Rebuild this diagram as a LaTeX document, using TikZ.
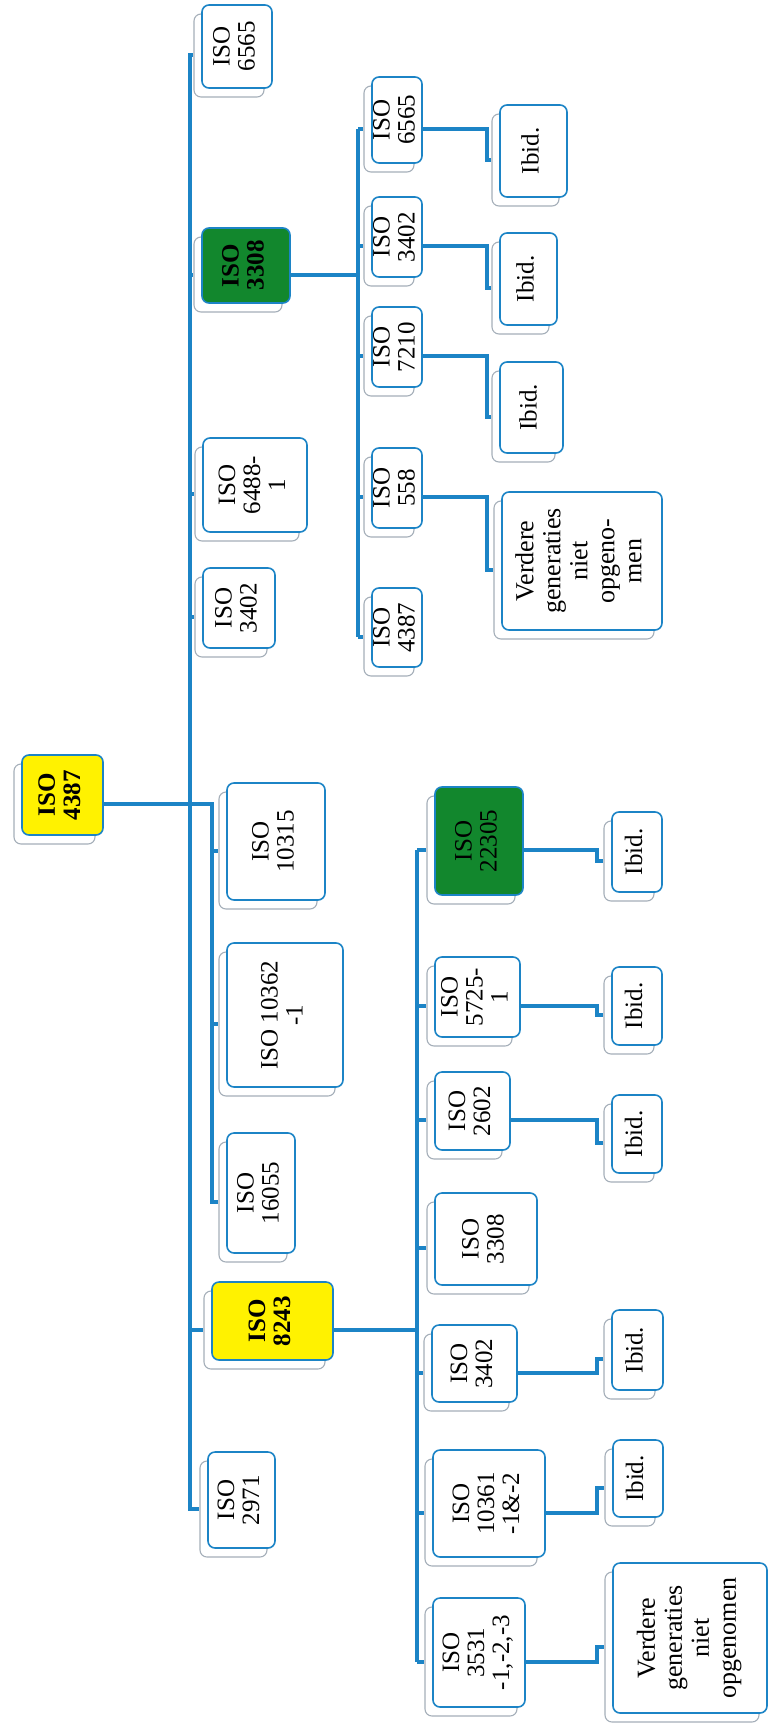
\documentclass[tikz,border=0pt]{standalone}
\usepackage{fontspec}
\setmainfont{Liberation Serif}
\usetikzlibrary{shadows}
\definecolor{isoblue}{RGB}{28,132,198}
\definecolor{isoyellow}{RGB}{255,242,0}
\definecolor{isogreen}{RGB}{18,135,45}
\definecolor{backgrey}{RGB}{165,175,185}
\newcommand{\vlines}[1]{\rotatebox{90}{\begin{tabular}{@{}c@{}}#1\end{tabular}}}
\tikzset{
  card/.style={draw=isoblue, line width=1.6pt, rounded corners=7pt, fill=white,
    inner sep=0pt, font=\fontsize{25}{25}\selectfont,
    copy shadow={shadow xshift=-8pt, shadow yshift=-9pt, draw=backgrey, fill=white, line width=1.1pt}},
  yel/.style={card, fill=isoyellow, font=\fontsize{25}{25}\selectfont\bfseries},
  grn/.style={card, fill=isogreen},
  note/.style={card, font=\fontsize{26}{27}\selectfont},
  link/.style={draw=isoblue, line width=4pt}
}
\begin{document}
\begin{tikzpicture}[x=1pt,y=-1pt]
\useasboundingbox (0,0) rectangle (768,1728);
% root and first generation
\node[yel, minimum width=81pt, minimum height=80pt] (r) at (62.5,795) {\vlines{ISO\\4387}};
\node[card, minimum width=70pt, minimum height=83pt] (t1) at (237,46.5) {\vlines{ISO\\6565}};
\node[grn, minimum width=88pt, minimum height=75pt, font=\fontsize{25}{25}\selectfont\bfseries] (t2) at (246,265.5) {\vlines{ISO\\3308}};
\node[card, minimum width=104pt, minimum height=94pt] (t3) at (255,485) {\vlines{ISO\\6488-\\1}};
\node[card, minimum width=72pt, minimum height=80pt] (t4) at (239,608) {\vlines{ISO\\3402}};
\node[card, minimum width=98pt, minimum height=117pt] (t5) at (276,841.5) {\vlines{ISO\\10315}};
\node[card, minimum width=116pt, minimum height=144pt] (t6) at (285,1015) {\vlines{ISO 10362\\-1}};
\node[card, minimum width=68pt, minimum height=120pt] (t7) at (261,1193) {\vlines{ISO\\16055}};
\node[yel, minimum width=121pt, minimum height=78pt] (t8) at (272.5,1321) {\vlines{ISO\\8243}};
\node[card, minimum width=67pt, minimum height=96pt] (t9) at (241.5,1500) {\vlines{ISO\\2971}};
% under ISO 3308
\node[card, minimum width=50pt, minimum height=86pt] (a1) at (397,120) {\vlines{ISO\\6565}};
\node[card, minimum width=50pt, minimum height=80pt] (a2) at (397,237) {\vlines{ISO\\3402}};
\node[card, minimum width=50pt, minimum height=80pt] (a3) at (397,347) {\vlines{ISO\\7210}};
\node[card, minimum width=50pt, minimum height=80pt] (a4) at (397,488) {\vlines{ISO\\558}};
\node[card, minimum width=50pt, minimum height=79pt] (a5) at (397,627.5) {\vlines{ISO\\4387}};
\node[card, minimum width=67pt, minimum height=92pt] (b1) at (533.5,151) {\vlines{Ibid.}};
\node[card, minimum width=57pt, minimum height=92pt] (b2) at (528.5,279) {\vlines{Ibid.}};
\node[card, minimum width=63pt, minimum height=91pt] (b3) at (531.5,407.5) {\vlines{Ibid.}};
\node[note, minimum width=160pt, minimum height=138pt] (b4) at (582,561) {\vlines{Verdere\\generaties\\niet\\opgeno-\\men}};
% under ISO 8243
\node[grn, minimum width=88pt, minimum height=108pt] (c1) at (479,841) {\vlines{ISO\\22305}};
\node[card, minimum width=85pt, minimum height=80pt] (c2) at (477.5,997) {\vlines{ISO\\5725-\\1}};
\node[card, minimum width=75pt, minimum height=78pt] (c3) at (472.5,1111) {\vlines{ISO\\2602}};
\node[card, minimum width=102pt, minimum height=92pt] (c4) at (486,1239) {\vlines{ISO\\3308}};
\node[card, minimum width=85pt, minimum height=77pt] (c5) at (474.5,1363.5) {\vlines{ISO\\3402}};
\node[card, minimum width=112pt, minimum height=107pt] (c6) at (489,1503.5) {\vlines{ISO\\10361\\-1\&-2}};
\node[card, minimum width=92pt, minimum height=109pt] (c7) at (479,1652.5) {\vlines{ISO\\3531\\-1,-2,-3}};
\node[card, minimum width=50pt, minimum height=80pt] (d1) at (637,852) {\vlines{Ibid.}};
\node[card, minimum width=50pt, minimum height=78pt] (d2) at (637,1006) {\vlines{Ibid.}};
\node[card, minimum width=50pt, minimum height=78pt] (d3) at (637,1134) {\vlines{Ibid.}};
\node[card, minimum width=51pt, minimum height=80pt] (d5) at (637.5,1350) {\vlines{Ibid.}};
\node[card, minimum width=50pt, minimum height=77pt] (d6) at (638,1478.5) {\vlines{Ibid.}};
\node[note, minimum width=154pt, minimum height=150pt] (d7) at (690,1638) {\vlines{Verdere\\generaties\\niet\\opgenomen}};
% links meet the back card, 9pt under the middle
\foreach \n in {r,t1,t2,t3,t4,t5,t6,t7,t8,t9,a1,a2,a3,a4,a5,b1,b2,b3,b4,c1,c2,c3,c4,c5,c6,c7,d1,d2,d3,d5,d6,d7}
{
	\coordinate (\n-l) at ([shift={(-8,9)}]\n.west);
	\coordinate (\n-r) at ([yshift=-9pt]\n.east);
}
\coordinate (mt) at (190,804);
\coordinate (it) at (212,0);
\coordinate (st) at (358,0);
\coordinate (sj) at (487,0);
\coordinate (bt) at (417,0);
\coordinate (bj) at (597,0);
\draw[link] (t1-l) -| (mt) |- (t9-l);
\foreach \n in {t2,t3,t4,t8}
	\draw[link] (mt |- \n-l) -- (\n-l);
\draw[link] (r-r) -| (it |- t7-l) -- (t7-l);
\foreach \n in {t5,t6}
	\draw[link] (it |- \n-l) -- (\n-l);
\draw[link] (t2-r) -- (t2-r -| st);
\draw[link] (st |- a1-l) -- (st |- a5-l);
\foreach \n in {a1,a2,a3,a4,a5}
	\draw[link] (st |- \n-l) -- (\n-l);
\foreach \p/\q in {a1/b1,a2/b2,a3/b3,a4/b4}
	\draw[link] (\p-r) -| (sj |- \q-l) -- (\q-l);
\draw[link] (t8-r) -- (t8-r -| bt);
\draw[link] (bt |- c1-l) -- (bt |- c7-l);
\foreach \n in {c1,c2,c3,c4,c5,c6,c7}
	\draw[link] (bt |- \n-l) -- (\n-l);
\foreach \p/\q in {c1/d1,c2/d2,c3/d3,c5/d5,c6/d6,c7/d7}
	\draw[link] (\p-r) -| (bj |- \q-l) -- (\q-l);
\end{tikzpicture}
\end{document}
